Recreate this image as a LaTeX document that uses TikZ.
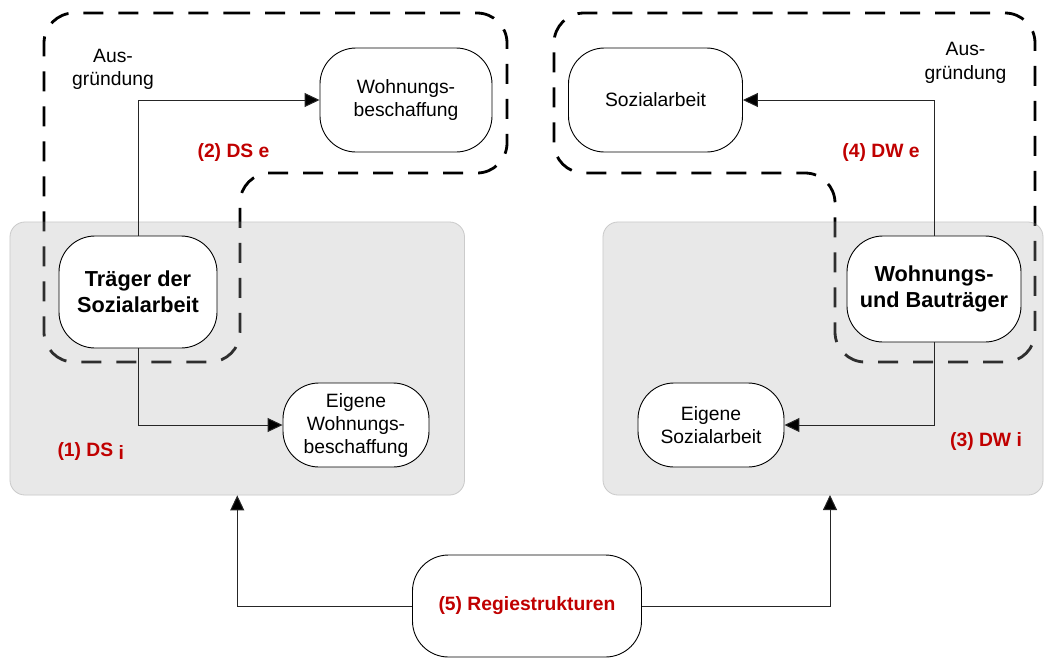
\documentclass[tikz,border=0pt]{standalone}
\usepackage{fontspec}
\setmainfont{Liberation Sans}
\usetikzlibrary{arrows.meta}
\definecolor{panelfill}{HTML}{E8E8E8}
\definecolor{panelline}{HTML}{C4C4C4}
\definecolor{labelred}{HTML}{C00000}
\definecolor{wire}{HTML}{262626}

\begin{document}
\begin{tikzpicture}[x=1pt,y=-1pt,
  panel/.style={draw=panelline, line width=0.8pt, fill=panelfill, rounded corners=15pt, inner sep=0pt},
  unit/.style={draw=black, line width=0.9pt, fill=white, rounded corners=36pt, align=center,
    inner sep=0pt, font=\fontsize{19.3}{23}\selectfont},
  keyunit/.style={unit, font=\fontsize{21.7}{26}\selectfont\bfseries},
  zone/.style={draw=black, line width=2.8pt, dash pattern=on 20pt off 15pt, rounded corners=30pt},
  link/.style={draw=wire, line width=1pt},
  flow/.style={link, -{Triangle[length=15pt,width=14pt,fill=black]}},
  caption/.style={font=\fontsize{19.3}{23.5}\selectfont, align=center, inner sep=0pt},
  tag/.style={font=\fontsize{19.3}{23}\selectfont\bfseries, text=labelred, inner sep=0pt},
]
\useasboundingbox (0,0) rectangle (1044,657);

% grey panels for the two kinds of organisation
\node[panel, minimum width=454.5, minimum height=273] (dsbox) at (237.25,358.5) {};
\node[panel, minimum width=440, minimum height=273] (dwbox) at (823,358.5) {};

% dashed outlines of the spin-offs
\draw[zone] (200,13) -- (507,13) -- (507,173) -- (240,173) -- (240,362) -- (44,362) -- (44,13) -- cycle;
\draw[zone] (800,13) -- (1035,13) -- (1035,362) -- (835,362) -- (835,173) -- (554,173) -- (554,13) -- cycle;

% soften the dashes where they run over the panels
\fill[panelfill, fill opacity=0.2, rounded corners=15pt] (dsbox.north west) rectangle (dsbox.south east);
\fill[panelfill, fill opacity=0.2, rounded corners=15pt] (dwbox.north west) rectangle (dwbox.south east);

% organisations
\node[keyunit, minimum width=158, minimum height=112] (traeger) at (138,292) {Träger der\\Sozialarbeit};
\node[keyunit, minimum width=174, minimum height=106] (wub) at (934,289) {Wohnungs-\\und Bauträger};
\node[unit, minimum width=172, minimum height=104] (wb) at (406,100) {Wohnungs-\\beschaffung};
\node[unit, minimum width=174, minimum height=104] (sa) at (655.5,100) {Sozialarbeit};
\node[unit, minimum width=146, minimum height=84] (ewb) at (356,425) {Eigene\\Wohnungs-\\beschaffung};
\node[unit, minimum width=146, minimum height=84] (esa) at (711,425) {Eigene\\Sozialarbeit};
\node[unit, minimum width=229, minimum height=102, text=labelred,
      font=\fontsize{19.3}{23}\selectfont\bfseries] (regie) at (527,606) {(5) Regiestrukturen};

% labels
\node[caption] (splitds) at (113,69.4) {Aus-\\gründung};
\node[caption] (splitdw) at (965.5,63) {Aus-\\gründung};
\node[tag, anchor=base] (dse) at (233.5,157.7) {(2) DS e};
\node[tag, anchor=base] (dwe) at (881,157.7) {(4) DW e};
\node[tag, anchor=base west] (dsi) at (57.3,456) {(1) DS \raisebox{-3.3pt}{i}};
\node[tag, anchor=base] (dwi) at (986,446.7) {(3) DW i};

% connectors
\coordinate (dwin) at (830,495);
\draw[flow] (traeger.north) |- (wb.west);
\draw[flow] (traeger.south) |- (ewb.west);
\draw[flow] (wub.north) |- (sa.east);
\draw[flow] (wub.south) |- (esa.east);
\draw[flow] (regie.west) -| (dsbox.south);
\draw[flow] (regie.east) -| (dwin);
\end{tikzpicture}
\end{document}
